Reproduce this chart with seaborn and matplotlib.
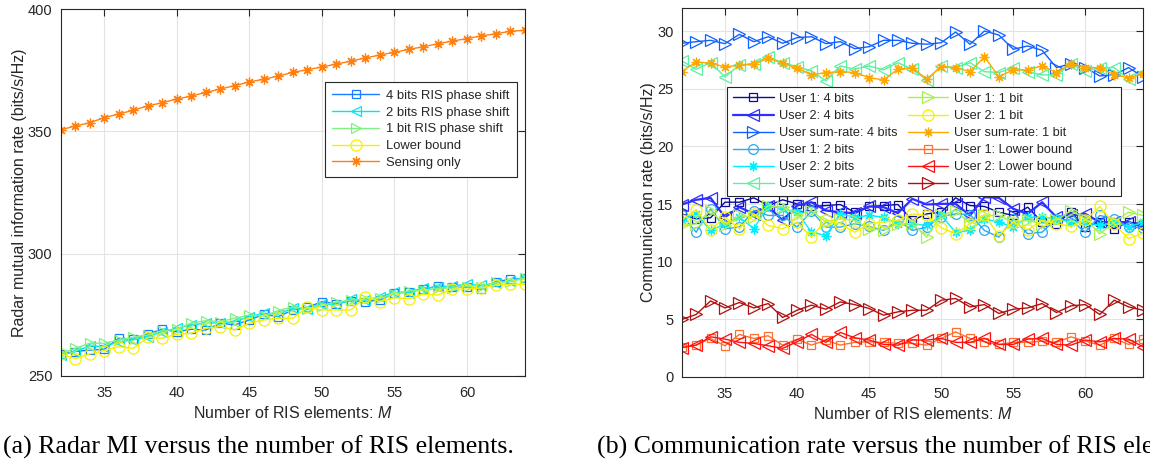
import numpy as np
import pandas as pd
import matplotlib
matplotlib.use("Agg")
import matplotlib.pyplot as plt
import seaborn as sns

# ---------------- data ----------------
M = list(range(32, 65))

# (a) radar mutual information rate (bits/s/Hz)
mi_4bit = [259.0, 260.0, 260.6, 260.9, 265.4, 265.0, 267.2, 269.1, 268.1, 269.1, 268.8,
           271.6, 270.9, 272.9, 275.2, 274.3, 277.0, 278.0, 280.4, 279.5, 280.8, 280.4,
           281.1, 283.8, 284.5, 285.5, 286.8, 286.3, 286.3, 285.5, 288.6, 289.5, 289.9]
mi_2bit = [258.6, 260.0, 262.3, 262.0, 264.0, 264.7, 266.1, 268.1, 269.5, 270.9, 271.6,
           271.8, 272.2, 274.3, 275.6, 275.4, 277.7, 277.2, 279.6, 279.0, 281.5, 281.0,
           282.3, 284.2, 284.0, 286.0, 286.2, 286.8, 287.5, 287.0, 288.0, 289.0, 290.3]
mi_1bit = [259.0, 261.3, 263.4, 263.4, 264.7, 265.8, 266.8, 268.5, 269.1, 271.6, 272.6,
           272.2, 273.6, 274.9, 274.5, 276.7, 278.3, 277.5, 278.8, 280.2, 281.0, 281.5,
           281.8, 283.5, 284.8, 285.0, 285.8, 286.0, 286.5, 286.2, 288.3, 288.6, 290.0]
mi_lower = [259.0, 257.1, 259.0, 260.4, 262.0, 261.3, 265.8, 265.4, 267.1, 267.5, 269.5,
            270.2, 268.8, 271.6, 272.9, 273.6, 273.6, 278.1, 277.0, 277.0, 277.0, 282.4,
            280.4, 282.0, 281.6, 283.5, 283.1, 285.5, 285.5, 286.0, 287.2, 287.5, 287.5]
mi_sensing = [350.6, 352.2, 353.5, 355.6, 357.1, 358.6, 360.4, 361.7, 363.2, 364.4, 365.9,
              367.3, 368.7, 370.2, 371.3, 372.6, 374.1, 375.2, 376.3, 377.5, 378.7, 380.0,
              381.2, 382.3, 383.5, 384.6, 385.8, 386.9, 387.9, 389.0, 389.9, 390.9, 391.3]

# (b) communication rate (bits/s/Hz)
u1_4bit = [14.15, 13.72, 13.81, 15.16, 15.16, 15.54, 14.87, 15.37, 15.02, 14.79, 14.87,
           14.96, 14.29, 14.79, 14.87, 14.96, 13.58, 14.15, 14.29, 15.54, 14.87, 14.79,
           14.29, 14.01, 14.73, 13.43, 13.29, 14.29, 13.00, 13.43, 12.86, 13.43, 13.29]
u2_4bit = [14.96, 15.37, 15.54, 13.86, 14.73, 14.15, 14.79, 13.58, 14.87, 15.16, 14.44,
           14.29, 14.21, 14.79, 14.73, 14.21, 15.45, 14.96, 15.02, 15.02, 14.01, 15.60,
           15.54, 14.59, 14.15, 15.16, 13.86, 14.01, 14.15, 13.43, 13.43, 13.43, 13.00]
sum_4bit = [28.96, 29.10, 29.22, 28.93, 29.74, 29.10, 29.53, 28.96, 29.45, 29.53, 28.93,
            29.10, 28.49, 28.67, 29.22, 29.22, 28.96, 28.88, 29.01, 29.94, 28.88, 30.03,
            29.68, 28.44, 28.73, 28.35, 26.85, 27.19, 26.85, 26.13, 26.22, 26.85, 26.04]
u1_2bit = [14.01, 12.56, 14.59, 12.86, 13.00, 14.44, 14.01, 14.01, 13.00, 14.38, 13.00,
           13.00, 13.29, 13.06, 12.71, 13.58, 12.71, 13.00, 13.92, 14.15, 14.09, 12.71,
           12.13, 13.72, 12.42, 12.56, 13.72, 13.58, 12.56, 14.01, 13.72, 13.00, 12.94]
u2_2bit = [13.64, 14.15, 12.71, 13.29, 13.86, 12.86, 14.87, 14.59, 14.29, 12.56, 12.27,
           14.15, 13.86, 14.01, 13.86, 13.29, 13.29, 13.14, 14.01, 12.56, 12.71, 13.72,
           13.43, 13.00, 13.86, 13.86, 13.72, 13.43, 13.43, 13.14, 13.43, 13.00, 13.43]
sum_2bit = [27.43, 26.71, 27.28, 26.04, 27.08, 27.20, 27.78, 27.28, 26.94, 26.56, 25.70,
            27.00, 26.71, 27.00, 26.65, 27.28, 26.71, 25.78, 27.00, 26.85, 27.28, 26.50,
            26.42, 26.85, 26.50, 26.22, 26.22, 27.14, 26.56, 26.85, 26.85, 25.84, 26.42]
u1_1bit = [13.14, 13.29, 14.44, 13.14, 14.01, 13.86, 14.87, 14.73, 14.01, 14.44, 13.43,
           13.72, 13.58, 12.86, 12.77, 13.29, 13.29, 12.13, 14.01, 14.44, 13.29, 14.01,
           14.01, 13.43, 13.58, 13.29, 13.58, 14.44, 13.72, 12.42, 13.43, 14.29, 14.01]
u2_1bit = [13.64, 14.50, 12.77, 13.86, 12.86, 14.15, 13.14, 12.86, 13.43, 12.13, 13.58,
           13.29, 12.56, 13.29, 13.43, 13.58, 14.15, 14.01, 12.94, 12.42, 13.29, 14.09,
           12.27, 13.43, 12.77, 13.58, 13.29, 13.06, 13.58, 14.79, 13.29, 11.99, 12.48]
sum_1bit = [26.50, 27.34, 27.23, 26.91, 27.06, 27.14, 27.66, 27.23, 26.80, 26.22, 26.42,
            26.50, 26.42, 25.98, 25.78, 26.71, 26.85, 25.84, 26.94, 26.85, 26.50, 27.78,
            26.07, 26.65, 26.65, 27.00, 26.42, 27.20, 26.85, 26.85, 26.22, 25.98, 26.28]
u1_lower = [2.61, 2.75, 3.33, 2.69, 3.68, 3.33, 3.56, 2.75, 3.27, 2.75, 3.19,
            2.75, 2.99, 3.04, 2.99, 2.90, 2.90, 2.75, 3.33, 3.90, 3.33, 3.04,
            2.81, 2.99, 2.99, 3.10, 2.99, 3.47, 3.10, 2.75, 3.33, 2.81, 3.27]
u2_lower = [2.52, 2.75, 3.47, 3.27, 2.99, 2.90, 2.69, 2.47, 3.04, 3.68, 2.99,
            3.85, 3.39, 3.19, 2.81, 2.75, 3.19, 3.19, 3.33, 2.99, 2.99, 3.33,
            2.81, 2.81, 3.27, 3.33, 2.81, 2.75, 3.19, 3.04, 3.33, 3.27, 2.61]
sum_lower = [4.98, 5.41, 6.59, 5.98, 6.45, 5.98, 6.36, 5.15, 5.78, 6.22, 5.87,
             6.50, 6.27, 5.93, 5.35, 5.64, 5.78, 5.78, 6.65, 6.80, 6.07, 6.27,
             5.50, 5.87, 5.98, 6.36, 5.58, 6.16, 6.27, 5.41, 6.65, 6.07, 5.78]

left_labels = ["4 bits RIS phase shift", "2 bits RIS phase shift", "1 bit RIS phase shift",
               "Lower bound", "Sensing only"]
right_labels = ["User 1: 4 bits", "User 2: 4 bits", "User sum-rate: 4 bits",
                "User 1: 2 bits", "User 2: 2 bits", "User sum-rate: 2 bits",
                "User 1: 1 bit", "User 2: 1 bit", "User sum-rate: 1 bit",
                "User 1: Lower bound", "User 2: Lower bound", "User sum-rate: Lower bound"]

# ---------------- styling ----------------
sns.set_style("white")
plt.rcParams["font.family"] = ["Liberation Sans", "DejaVu Sans"]
plt.rcParams["mathtext.fontset"] = "custom"
plt.rcParams["mathtext.it"] = "Liberation Sans:italic"
plt.rcParams["mathtext.rm"] = "Liberation Sans"

TXT = "#262626"
ASTERISK = (8, 2, 0)   # eight-armed asterisk marker

fig = plt.figure(figsize=(11.5, 4.69), dpi=100)
ax1 = fig.add_axes([0.0528, 0.1983, 0.4037, 0.7825])
ax2 = fig.add_axes([0.5928, 0.1966, 0.4011, 0.7857])


def draw(ax, y, label, color, marker, ms=6, lw=1.0, mew=0.9):
    sns.lineplot(x=M, y=y, ax=ax, color=color, marker=marker, markersize=ms,
                 markerfacecolor="none", markeredgecolor=color, markeredgewidth=mew,
                 linewidth=lw, label=label, legend=False)


left_series = [
    (mi_4bit, "#1a7cff", "s", 6),
    (mi_2bit, "#00e6f0", "<", 7),
    (mi_1bit, "#80f080", ">", 7),
    (mi_lower, "#f5f000", "o", 8),
    (mi_sensing, "#ff8010", ASTERISK, 7),
]
for (y, c, mk, ms), lab in zip(left_series, left_labels):
    draw(ax1, y, lab, c, mk, ms)

right_series = [
    (u1_4bit, "#0a0a9c", "s", 6, 1.0),
    (u2_4bit, "#2e2eff", "<", 8, 1.6),
    (sum_4bit, "#1060ff", ">", 8, 1.0),
    (u1_2bit, "#2aa8f5", "o", 7, 1.0),
    (u2_2bit, "#00eeff", ASTERISK, 7, 1.0),
    (sum_2bit, "#5cf0a0", "<", 8, 1.0),
    (u1_1bit, "#a6f050", ">", 8, 1.0),
    (u2_1bit, "#f5f000", "o", 8, 1.0),
    (sum_1bit, "#ffa800", ASTERISK, 7, 1.0),
    (u1_lower, "#ff7030", "s", 6, 1.0),
    (u2_lower, "#ff1010", "<", 8, 1.0),
    (sum_lower, "#b01010", ">", 8, 1.0),
]
for (y, c, mk, ms, lw), lab in zip(right_series, right_labels):
    draw(ax2, y, lab, c, mk, ms, lw)


def style_axes(ax, ylim, yticks, ylabel):
    ax.set_xlim(32, 64)
    ax.set_ylim(*ylim)
    ax.set_xticks([35, 40, 45, 50, 55, 60])
    ax.set_yticks(yticks)
    ax.grid(True, color="#e3e3e3", linewidth=0.8)
    ax.set_axisbelow(True)
    ax.tick_params(direction="in", top=True, right=True, length=5, width=0.8,
                   colors=TXT, labelsize=10.5)
    ax.tick_params(axis="x", pad=7)
    ax.tick_params(axis="y", pad=6)
    for s in ax.spines.values():
        s.set_color(TXT)
        s.set_linewidth(0.8)
    ax.set_xlabel("Number of RIS elements: $M$", fontsize=11.5, color=TXT, labelpad=4)
    ax.set_ylabel(ylabel, fontsize=11.5, color=TXT, labelpad=0.5)


style_axes(ax1, (250, 400), [250, 300, 350, 400],
           "Radar mutual information rate (bits/s/Hz)")
style_axes(ax2, (0, 32), [0, 5, 10, 15, 20, 25, 30],
           "Communication rate (bits/s/Hz)")

leg1 = ax1.legend(loc="upper right", bbox_to_anchor=(0.983, 0.801), fontsize=9.4,
                  frameon=True, fancybox=False, edgecolor=TXT, framealpha=1,
                  handlelength=3.6, handletextpad=0.5, borderpad=0.6, labelspacing=0.35,
                  borderaxespad=0)
leg1.get_frame().set_linewidth(0.8)

leg2 = ax2.legend(loc="upper left", bbox_to_anchor=(0.098, 0.786), ncol=2, fontsize=9.2,
                  frameon=True, fancybox=False, edgecolor=TXT, framealpha=1,
                  handlelength=3.2, handletextpad=0.4, borderpad=0.45, labelspacing=0.40,
                  columnspacing=0.8, borderaxespad=0)
leg2.get_frame().set_linewidth(0.8)

# figure captions
cap_font = dict(family=["Liberation Serif", "DejaVu Serif"], fontsize=18.6, color="black")
fig.text(0.0026, 0.047, "(a) Radar MI versus the number of RIS elements.", ha="left",
         va="center", **cap_font)
fig.text(0.519, 0.047, "(b) Communication rate versus the number of RIS elements.",
         ha="left", va="center", **cap_font)

fig.savefig("out.png", dpi=100)
